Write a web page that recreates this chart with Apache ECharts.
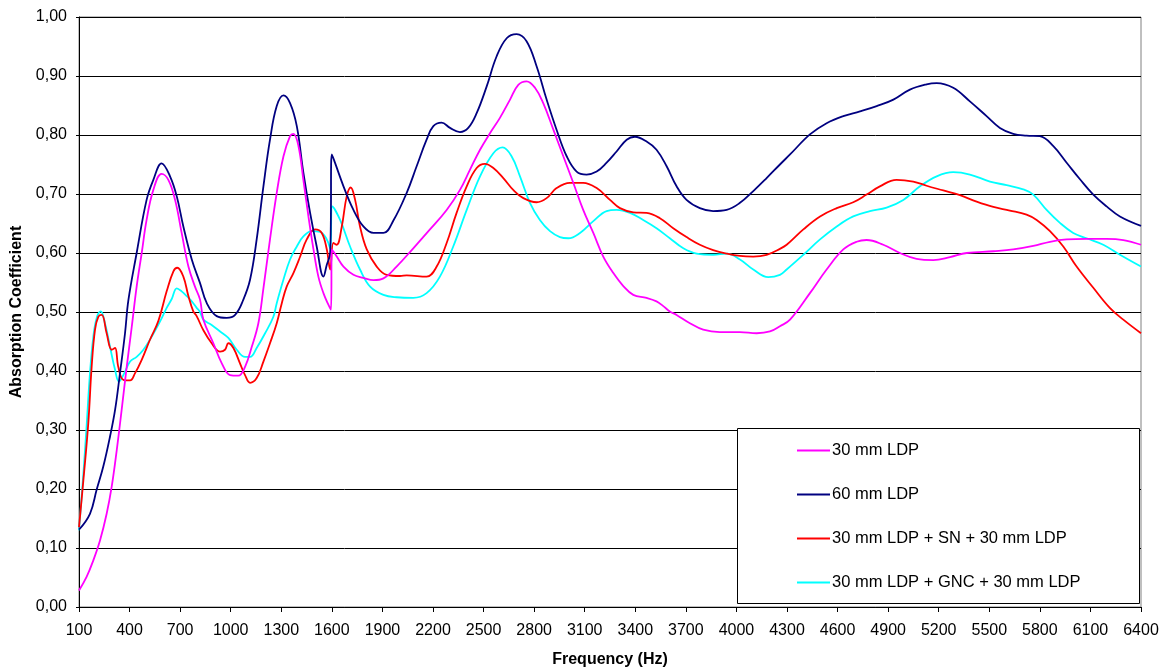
<!DOCTYPE html>
<html>
<head>
<meta charset="utf-8">
<script src="https://cdn.jsdelivr.net/npm/echarts@6/dist/echarts.min.js"></script>
<style>html,body{margin:0;padding:0;background:#fff}#c{width:1164px;height:670px}</style>
</head>
<body>
<div id="c"></div>
<script>
const seriesNames = ["30 mm LDP", "60 mm LDP", "30 mm LDP + SN + 30 mm LDP", "30 mm LDP + GNC + 30 mm LDP"];
const xTicks = [100,400,700,1000,1300,1600,1900,2200,2500,2800,3100,3400,3700,4000,4300,4600,4900,5200,5500,5800,6100,6400];

const ldp30Freq = [100,145,185,225,264,294,324,353,383,413,442,472,501,541,590,630,670,709,749,788,818,838,897,947,996,1045,1085,1125,1164,1194,1233,1273,1313,1352,1372,1402,1431,1461,1491,1520,1550,1580,1595,1600,1629,1669,1728,1787,1847,1906,1984,2083,2182,2281,2360,2419,2479,2538,2597,2657,2706,2755,2805,2854,2914,2973,3032,3091,3151,3210,3270,3329,3388,3467,3526,3566,3605,3645,3724,3803,3902,4021,4120,4199,4258,4318,4436,4535,4634,4713,4772,4871,4970,5069,5168,5267,5366,5524,5642,5761,5860,5959,6077,6196,6295,6400];
const ldp30Vals = [0.028,0.051,0.079,0.113,0.158,0.204,0.266,0.334,0.407,0.475,0.543,0.600,0.656,0.707,0.734,0.724,0.690,0.634,0.577,0.543,0.521,0.487,0.447,0.413,0.393,0.392,0.407,0.441,0.481,0.540,0.623,0.702,0.764,0.798,0.802,0.781,0.724,0.662,0.606,0.560,0.532,0.512,0.504,0.606,0.594,0.577,0.563,0.558,0.554,0.557,0.577,0.608,0.640,0.673,0.707,0.741,0.775,0.803,0.829,0.860,0.885,0.891,0.880,0.854,0.809,0.764,0.719,0.673,0.634,0.594,0.566,0.544,0.529,0.524,0.518,0.510,0.501,0.495,0.481,0.470,0.466,0.466,0.464,0.467,0.476,0.487,0.532,0.572,0.606,0.619,0.622,0.614,0.600,0.590,0.588,0.593,0.600,0.603,0.606,0.612,0.619,0.623,0.624,0.624,0.622,0.614];

const ldp60Freq = [100,165,205,244,284,314,343,373,393,442,501,541,590,640,680,719,769,818,858,917,976,1026,1075,1115,1154,1194,1233,1273,1313,1352,1392,1431,1471,1510,1550,1570,1590,1600,1669,1728,1787,1847,1906,1965,2044,2103,2162,2202,2251,2301,2360,2409,2459,2518,2577,2637,2696,2755,2815,2874,2933,2993,3052,3111,3171,3230,3289,3349,3398,3467,3526,3586,3645,3704,3783,3862,3942,4021,4100,4179,4258,4318,4436,4535,4634,4733,4832,4931,5029,5128,5188,5286,5385,5484,5563,5642,5721,5800,5880,5959,6038,6117,6196,6275,6400];
const ldp60Vals = [0.131,0.158,0.199,0.238,0.289,0.334,0.396,0.464,0.520,0.600,0.690,0.724,0.752,0.730,0.696,0.645,0.589,0.549,0.515,0.493,0.490,0.495,0.521,0.555,0.623,0.713,0.792,0.849,0.867,0.854,0.815,0.736,0.668,0.611,0.560,0.580,0.600,0.767,0.713,0.673,0.645,0.634,0.634,0.655,0.702,0.747,0.792,0.815,0.821,0.812,0.805,0.812,0.837,0.882,0.933,0.964,0.971,0.959,0.916,0.860,0.809,0.764,0.738,0.733,0.738,0.753,0.772,0.792,0.797,0.789,0.775,0.747,0.713,0.690,0.676,0.671,0.673,0.685,0.705,0.727,0.750,0.767,0.801,0.820,0.832,0.840,0.849,0.860,0.877,0.886,0.888,0.880,0.857,0.832,0.812,0.802,0.799,0.798,0.781,0.753,0.725,0.699,0.679,0.662,0.646];

const snFreq = [100,126,155,175,195,215,235,264,294,314,333,363,403,432,472,521,571,620,660,683,719,749,778,798,838,887,937,966,986,1016,1055,1085,1115,1154,1194,1233,1273,1303,1332,1372,1412,1451,1500,1540,1570,1590,1609,1629,1659,1688,1712,1738,1767,1807,1866,1925,2005,2044,2162,2222,2281,2340,2400,2459,2508,2558,2617,2676,2736,2815,2874,2933,3012,3091,3171,3250,3309,3388,3467,3546,3625,3704,3783,3862,3942,4021,4100,4179,4258,4298,4397,4496,4595,4693,4772,4851,4950,5049,5128,5227,5326,5425,5524,5622,5721,5781,5860,5939,6018,6117,6215,6295,6400];
const snVals = [0.135,0.215,0.311,0.407,0.470,0.492,0.495,0.464,0.436,0.439,0.407,0.385,0.384,0.396,0.419,0.453,0.485,0.535,0.569,0.575,0.560,0.527,0.501,0.493,0.469,0.447,0.433,0.436,0.447,0.439,0.413,0.393,0.380,0.388,0.416,0.447,0.481,0.515,0.543,0.566,0.594,0.623,0.640,0.634,0.606,0.572,0.617,0.614,0.645,0.696,0.711,0.690,0.645,0.606,0.577,0.563,0.561,0.562,0.560,0.577,0.617,0.668,0.713,0.744,0.751,0.744,0.727,0.707,0.693,0.686,0.693,0.710,0.719,0.719,0.710,0.690,0.676,0.669,0.668,0.659,0.642,0.627,0.614,0.605,0.599,0.595,0.594,0.597,0.607,0.614,0.640,0.662,0.676,0.686,0.699,0.713,0.724,0.721,0.714,0.706,0.698,0.687,0.678,0.672,0.665,0.656,0.637,0.611,0.577,0.541,0.507,0.487,0.464];

const gncFreq = [100,126,145,165,185,205,229,254,284,314,337,363,403,442,482,531,581,620,650,680,709,739,769,798,818,838,887,937,986,1036,1085,1115,1154,1204,1253,1273,1313,1352,1392,1431,1481,1530,1570,1590,1603,1649,1708,1767,1827,1906,1984,2083,2162,2241,2320,2400,2479,2558,2613,2666,2716,2775,2834,2894,2953,3003,3072,3151,3230,3289,3368,3447,3526,3605,3685,3764,3862,3942,4021,4100,4189,4258,4298,4397,4496,4595,4693,4792,4891,4990,5089,5188,5286,5385,5504,5603,5701,5761,5840,5919,5998,6077,6176,6275,6400];
const gncVals = [0.130,0.226,0.306,0.396,0.458,0.490,0.501,0.481,0.441,0.402,0.382,0.393,0.416,0.424,0.436,0.458,0.484,0.507,0.522,0.540,0.535,0.527,0.518,0.507,0.500,0.487,0.478,0.467,0.456,0.436,0.424,0.424,0.439,0.464,0.492,0.515,0.555,0.589,0.611,0.628,0.637,0.636,0.623,0.608,0.679,0.656,0.611,0.572,0.543,0.529,0.525,0.524,0.532,0.560,0.611,0.673,0.730,0.769,0.779,0.764,0.730,0.685,0.656,0.637,0.627,0.625,0.634,0.654,0.671,0.673,0.668,0.656,0.642,0.625,0.608,0.599,0.597,0.599,0.589,0.572,0.559,0.563,0.572,0.597,0.623,0.645,0.662,0.671,0.677,0.690,0.713,0.730,0.737,0.733,0.721,0.715,0.708,0.699,0.673,0.651,0.634,0.625,0.614,0.597,0.577];

const colors = ['#FF00FF', '#000080', '#FF0000', '#00FFFF'];
const pairs = (fs, vs) => fs.map((f, i) => [f, vs[i]]);
const allData = [pairs(ldp30Freq, ldp30Vals), pairs(ldp60Freq, ldp60Vals), pairs(snFreq, snVals), pairs(gncFreq, gncVals)];

const FONT = 'Liberation Sans, Arial, sans-serif';
const chart = echarts.init(document.getElementById('c'), null, {renderer: 'canvas'});
chart.setOption({
  animation: false,
  backgroundColor: '#fff',
  grid: {left: 79, right: 23, top: 17, bottom: 63, show: true, borderColor: '#808080', borderWidth: 1, backgroundColor: 'transparent', containLabel: false, outerBoundsMode: 'none'},
  xAxis: {
    type: 'value', min: xTicks[0], max: xTicks[xTicks.length - 1], interval: 300,
    name: 'Frequency (Hz)', nameLocation: 'middle', nameGap: 45,
    nameTextStyle: {fontFamily: FONT, fontSize: 16, fontWeight: 'bold', color: '#000'},
    axisLine: {show: true, onZero: false, lineStyle: {color: '#000', width: 1}},
    axisTick: {show: true, length: 5, lineStyle: {color: '#000'}},
    axisLabel: {fontFamily: FONT, fontSize: 16, color: '#000', margin: 16, showMinLabel: true, showMaxLabel: true, formatter: v => String(v)},
    splitLine: {show: false}
  },
  yAxis: {
    type: 'value', min: 0, max: 1, interval: 0.1,
    name: 'Absorption Coefficient', nameLocation: 'middle', nameGap: 51,
    nameTextStyle: {fontFamily: FONT, fontSize: 16, fontWeight: 'bold', color: '#000'},
    axisLine: {show: true, lineStyle: {color: '#000', width: 1}},
    axisTick: {show: true, length: 3, lineStyle: {color: '#000'}},
    axisLabel: {fontFamily: FONT, fontSize: 16, color: '#000', margin: 12, formatter: v => v.toFixed(2).replace('.', ',')},
    splitLine: {show: true, lineStyle: {color: '#000', width: 1}}
  },
  graphic: [{
    type: 'rect', z: 3, left: 737, top: 428,
    shape: {width: 402, height: 175},
    style: {fill: '#fff', stroke: '#000', lineWidth: 1}
  }],
  legend: {
    orient: 'vertical', left: 797, top: 442, z: 5, padding: 0,
    itemGap: 27, itemWidth: 33, itemHeight: 2, icon: 'rect',
    textStyle: {fontFamily: FONT, fontSize: 16.5, color: '#000', padding: [0, 0, 0, -3]},
    data: seriesNames
  },
  series: seriesNames.map((n, i) => ({
    name: n, type: 'line', data: allData[i], showSymbol: false, symbol: 'none',
    smooth: 0.4, z: 2 + (3 - i) * 0.1,
    lineStyle: {color: colors[i], width: 1.8}, itemStyle: {color: colors[i]}
  }))
});
</script>
</body>
</html>
